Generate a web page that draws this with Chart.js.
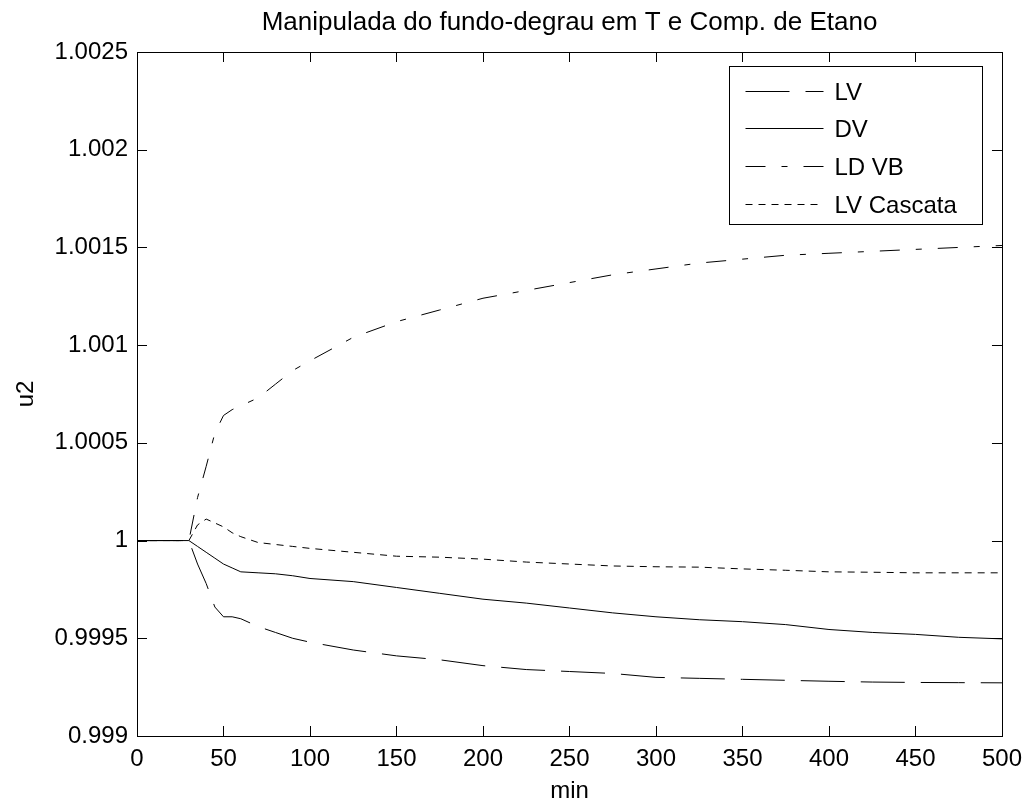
<!DOCTYPE html>
<html>
<head>
<meta charset="utf-8">
<title>Manipulada do fundo-degrau em T e Comp. de Etano</title>
<script src="https://cdn.jsdelivr.net/npm/chart.js@4.4.1/dist/chart.umd.min.js"></script>
<style>
  html, body { margin: 0; padding: 0; background: #fff; }
</style>
</head>
<body>
<canvas id="u2Chart" width="1031" height="805"></canvas>
<script>
// time axis (min) and the four controller outputs u2
var minutes = [0, 30, 35, 40, 45, 50, 55, 60, 70, 80, 90, 100, 125, 150, 175, 200, 225, 250, 275, 300, 325, 350, 375, 400, 425, 450, 475, 500];
var lvValues = [1, 1, 0.99988, 0.99978, 0.99966, 0.99961, 0.99961, 0.9996, 0.99956, 0.99953, 0.9995, 0.99948, 0.99944, 0.99941, 0.99939, 0.99936, 0.99934, 0.99933, 0.99932, 0.9993, 0.999295, 0.99929, 0.999285, 0.99928, 0.999276, 0.999274, 0.999273, 0.999272];
var dvValues = [1, 1, 0.99997, 0.99994, 0.99991, 0.99988, 0.99986, 0.99984, 0.999835, 0.99983, 0.99982, 0.999806, 0.99979, 0.99976, 0.99973, 0.9997, 0.99968, 0.999655, 0.99963, 0.99961, 0.999595, 0.999585, 0.99957, 0.999545, 0.99953, 0.99952, 0.999505, 0.999497];
var ldvbValues = [1, 1, 1.00022, 1.00038, 1.00055, 1.00064, 1.00067, 1.00069, 1.00073, 1.0008, 1.00087, 1.00092, 1.00104, 1.00112, 1.00118, 1.00124, 1.00128, 1.00132, 1.00136, 1.00139, 1.00142, 1.00144, 1.00146, 1.00147, 1.00148, 1.00149, 1.0015, 1.00151];
var cascataValues = [1, 1, 1.00008, 1.00011, 1.00009, 1.00007, 1.00004, 1.00002, 0.99999, 0.99998, 0.99997, 0.99996, 0.99994, 0.99992, 0.999915, 0.999905, 0.99989, 0.99988, 0.99987, 0.999866, 0.999864, 0.999855, 0.999848, 0.99984, 0.999838, 0.999835, 0.999835, 0.999835];

var xTicks = [0, 50, 100, 150, 200, 250, 300, 350, 400, 450, 500];
var yTicks = [0.999, 0.9995, 1, 1.0005, 1.001, 1.0015, 1.002, 1.0025];

var fontFamily = '"Liberation Sans", Arial, Helvetica, sans-serif';

function toPoints(values) {
    return values.map(function (v, i) { return { x: minutes[i], y: v }; });
}

// MATLAB style box with inward ticks and a boxed legend inside the axes
var matlabFrame = {
    id: 'matlabFrame',
    afterDatasetsDraw: function (chart) {
        var ctx = chart.ctx, a = chart.chartArea;
        var xs = chart.scales.x, ys = chart.scales.y;
        var tick = 10;
        ctx.save();
        ctx.strokeStyle = '#000';
        ctx.lineWidth = 1;
        ctx.beginPath();
        xs.ticks.forEach(function (t) {
            var px = Math.round(xs.getPixelForValue(t.value)) + 0.5;
            ctx.moveTo(px, a.bottom); ctx.lineTo(px, a.bottom - tick);
            ctx.moveTo(px, a.top); ctx.lineTo(px, a.top + tick);
        });
        ys.ticks.forEach(function (t) {
            var py = Math.round(ys.getPixelForValue(t.value)) + 0.5;
            ctx.moveTo(a.left, py); ctx.lineTo(a.left + tick, py);
            ctx.moveTo(a.right, py); ctx.lineTo(a.right - tick, py);
        });
        ctx.stroke();
        ctx.strokeRect(Math.round(a.left) + 0.5, Math.round(a.top) + 0.5,
            Math.round(a.right - a.left), Math.round(a.bottom - a.top));

        // legend
        var bw = 253, bh = 158;
        var bx = Math.round(a.right - 19.5 - bw) + 0.5, by = Math.round(a.top + 14) + 0.5;
        ctx.fillStyle = '#fff';
        ctx.fillRect(bx, by, bw, bh);
        ctx.strokeRect(bx, by, bw, bh);
        ctx.font = '24px ' + fontFamily;
        ctx.fillStyle = '#000';
        ctx.textBaseline = 'alphabetic';
        chart.data.datasets.forEach(function (ds, i) {
            var y = Math.round(by + 24 + i * 37.7) + 0.5;
            ctx.setLineDash(ds.borderDash || []);
            ctx.beginPath();
            ctx.moveTo(bx + 16, y);
            ctx.lineTo(bx + 94, y);
            ctx.stroke();
            ctx.setLineDash([]);
            ctx.fillText(ds.label, bx + 105, y + 8.5);
        });
        ctx.restore();
    }
};

var ctx = document.getElementById('u2Chart').getContext('2d');

var u2Chart = new Chart(ctx, {
    type: 'line',
    data: {
        datasets: [{
            label: 'LV',
            data: toPoints(lvValues),
            borderDash: [44, 16]
        }, {
            label: 'DV',
            data: toPoints(dvValues),
            borderDash: []
        }, {
            label: 'LD VB',
            data: toPoints(ldvbValues),
            borderDash: [20, 16, 6, 16]
        }, {
            label: 'LV Cascata',
            data: toPoints(cascataValues),
            borderDash: [7, 6]
        }]
    },
    options: {
        responsive: false,
        animation: false,
        layout: { padding: { top: 0, right: 26.5, bottom: 0, left: 0 } },
        elements: {
            line: { borderColor: '#000', borderWidth: 1, tension: 0, fill: false },
            point: { radius: 0, hoverRadius: 0 }
        },
        plugins: {
            legend: { display: false },
            tooltip: { enabled: false },
            title: {
                display: true,
                fullSize: false,
                text: 'Manipulada do fundo-degrau em T e Comp. de Etano',
                color: '#000',
                font: { family: fontFamily, size: 26, weight: 'normal' },
                padding: { top: 7, bottom: 13.8 }
            }
        },
        scales: {
            x: {
                type: 'linear',
                min: 0,
                max: 500,
                afterBuildTicks: function (s) { s.ticks = xTicks.map(function (v) { return { value: v }; }); },
                afterFit: function (s) { s.height = 69; },
                grid: { display: false, drawTicks: false },
                border: { display: false },
                ticks: { color: '#000', font: { family: fontFamily, size: 24 }, padding: 9, maxRotation: 0, autoSkip: false },
                title: { display: true, text: 'min', color: '#000', font: { family: fontFamily, size: 24 }, padding: { top: 0, bottom: -1 } }
            },
            y: {
                type: 'linear',
                min: 0.999,
                max: 1.0025,
                afterBuildTicks: function (s) { s.ticks = yTicks.map(function (v) { return { value: v }; }); },
                afterFit: function (s) { s.width = 137; },
                grid: { display: false, drawTicks: false },
                border: { display: false },
                ticks: {
                    color: '#000',
                    font: { family: fontFamily, size: 24 },
                    padding: 9,
                    autoSkip: false,
                    callback: function (v) { return String(+Number(v).toFixed(4)); }
                },
                title: { display: true, text: 'u2', color: '#000', font: { family: fontFamily, size: 24 }, padding: { top: 12, bottom: 0 } }
            }
        }
    },
    plugins: [matlabFrame]
});
</script>
</body>
</html>
